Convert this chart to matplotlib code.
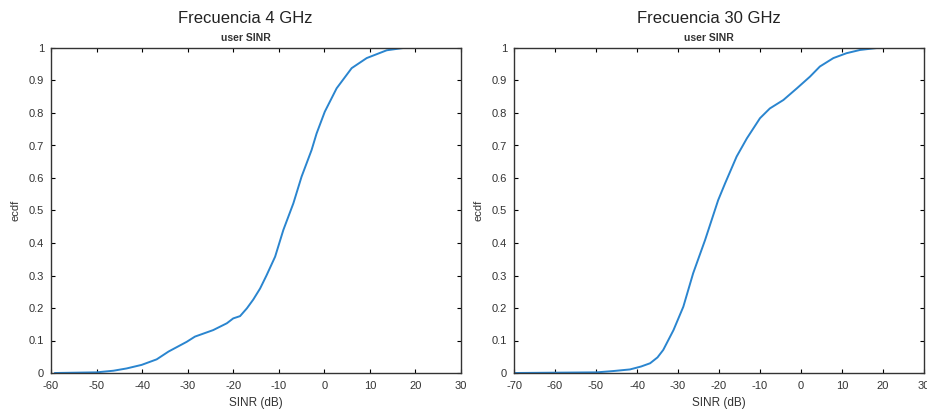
import matplotlib
matplotlib.use("Agg")
import matplotlib.pyplot as plt

# ---- data ----
sinr_4ghz = [-59.1, -50.0, -46.3, -43.4, -40.1, -36.8, -34.2, -30.2, -28.4, -24.4,
             -21.4, -20.0, -18.5, -17.0, -15.6, -14.1, -12.7, -10.8, -9.0, -6.8,
             -5.0, -2.8, -1.7, 0.1, 2.7, 6.0, 9.3, 13.7, 17.3, 21.4]
ecdf_4ghz = [0.0, 0.002, 0.007, 0.014, 0.025, 0.042, 0.066, 0.096, 0.112, 0.132,
             0.153, 0.168, 0.175, 0.199, 0.226, 0.26, 0.30, 0.358, 0.44, 0.522,
             0.604, 0.686, 0.737, 0.804, 0.876, 0.938, 0.969, 0.993, 1.0, 1.0]

sinr_30ghz = [-69.8, -49.8, -45.8, -41.7, -39.0, -36.8, -35.0, -33.6, -31.1, -28.7,
              -26.3, -23.4, -20.2, -18.5, -15.7, -13.2, -10.0, -7.6, -4.3, -1.0,
              2.2, 4.6, 7.9, 11.1, 14.4, 18.5, 22.1]
ecdf_30ghz = [0.0, 0.002, 0.006, 0.011, 0.02, 0.03, 0.048, 0.071, 0.132, 0.204,
              0.307, 0.409, 0.532, 0.584, 0.666, 0.722, 0.784, 0.814, 0.84, 0.876,
              0.912, 0.943, 0.969, 0.984, 0.994, 1.0, 1.0]

titles = ["Frecuencia 4 GHz", "Frecuencia 30 GHz"]
subtitle = "user SINR"
xlims = [(-60, 30), (-70, 30)]
yticks = [0, 0.1, 0.2, 0.3, 0.4, 0.5, 0.6, 0.7, 0.8, 0.9, 1]

plt.rcParams['font.family'] = ['Liberation Sans', 'DejaVu Sans']
plt.rcParams['axes.unicode_minus'] = False

fig = plt.figure(figsize=(9.28, 4.15), dpi=100)
ax1 = fig.add_axes([51 / 928, 1 - 373 / 415, 410 / 928, 325 / 415])
ax2 = fig.add_axes([514 / 928, 1 - 373 / 415, 410 / 928, 325 / 415])

series = [(sinr_4ghz, ecdf_4ghz), (sinr_30ghz, ecdf_30ghz)]
for ax, (x, y), title, xl in zip([ax1, ax2], series, titles, xlims):
    ax.plot(x, y, color="#2a85cf", linewidth=1.4)
    ax.set_xlim(*xl)
    ax.set_ylim(0, 1)
    ax.set_xticks(range(xl[0], xl[1] + 1, 10))
    ax.set_yticks(yticks)
    ax.set_yticklabels([f"{v:g}" for v in yticks])
    ax.tick_params(axis="x", pad=6)
    ax.tick_params(axis="y", pad=5)
    ax.tick_params(direction="in", length=3, width=0.8, labelsize=8,
                   labelcolor="#333333", top=True, right=True)
    for sp in ax.spines.values():
        sp.set_linewidth(1.0)
        sp.set_color("#333333")
    ax.set_xlabel("SINR (dB)", fontsize=8.5, color="#333333", labelpad=4)
    ax.set_ylabel("ecdf", fontsize=8, color="#333333", labelpad=6)
    ax.text(0.475, 1.092, title, transform=ax.transAxes, ha="center", va="center",
            fontsize=12, color="#222222")
    ax.text(0.475, 1.03, subtitle, transform=ax.transAxes, ha="center", va="center",
            fontsize=7.5, color="#333333", fontweight="bold")

fig.savefig("out.png", dpi=100)
